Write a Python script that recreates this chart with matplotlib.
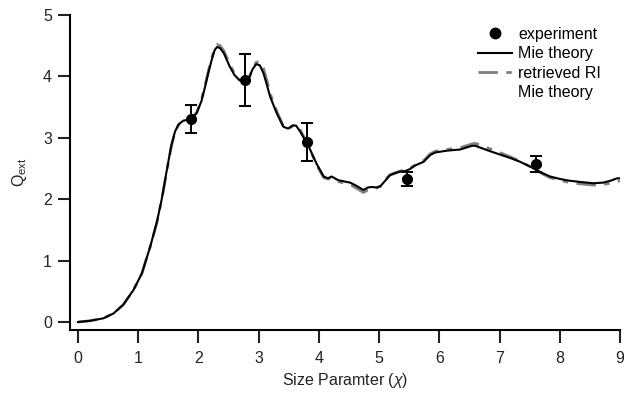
import matplotlib
matplotlib.use('Agg')
import matplotlib.pyplot as plt
from matplotlib.lines import Line2D

plt.rcParams['font.family'] = ['Liberation Sans', 'DejaVu Sans']
plt.rcParams['mathtext.fontset'] = 'custom'
plt.rcParams['mathtext.rm'] = 'Liberation Sans'
plt.rcParams['mathtext.it'] = 'Liberation Sans:italic'

# Mie theory curve
mie_x = [0.00, 0.20, 0.42, 0.59, 0.75, 0.92, 1.06, 1.20, 1.31, 1.39,
         1.47, 1.55, 1.61, 1.67, 1.75, 1.86, 1.97, 2.05, 2.11, 2.17,
         2.22, 2.27, 2.31, 2.36, 2.42, 2.52, 2.60, 2.68, 2.77, 2.84,
         2.90, 2.96, 3.02, 3.08, 3.14, 3.19, 3.30, 3.41, 3.49, 3.56,
         3.62, 3.69, 3.76, 3.83, 3.96, 4.08, 4.15, 4.21, 4.32, 4.42,
         4.52, 4.62, 4.74, 4.81, 4.88, 4.95, 5.02, 5.10, 5.18, 5.26,
         5.35, 5.44, 5.51, 5.60, 5.74, 5.85, 5.93, 6.12, 6.35, 6.54,
         6.60, 6.79, 7.00, 7.18, 7.34, 7.51, 7.70, 7.84, 8.00, 8.17,
         8.35, 8.56, 8.72, 8.84, 8.95, 9.00]
mie_q = [0.00, 0.02, 0.06, 0.14, 0.28, 0.52, 0.79, 1.23, 1.63, 2.00,
         2.45, 2.88, 3.10, 3.22, 3.28, 3.30, 3.40, 3.60, 3.83, 4.08,
         4.27, 4.43, 4.48, 4.46, 4.38, 4.16, 4.02, 3.94, 3.91, 3.98,
         4.12, 4.20, 4.18, 4.05, 3.85, 3.67, 3.40, 3.18, 3.15, 3.20,
         3.20, 3.10, 2.98, 2.86, 2.58, 2.37, 2.34, 2.37, 2.31, 2.29,
         2.27, 2.22, 2.15, 2.19, 2.20, 2.19, 2.21, 2.30, 2.39, 2.42,
         2.45, 2.46, 2.49, 2.55, 2.61, 2.72, 2.76, 2.79, 2.81, 2.87,
         2.87, 2.80, 2.73, 2.67, 2.61, 2.53, 2.43, 2.37, 2.33, 2.30,
         2.28, 2.26, 2.27, 2.30, 2.34, 2.34]

# retrieved RI Mie theory curve
ri_q = [0.00, 0.02, 0.06, 0.14, 0.28, 0.52, 0.79, 1.23, 1.62, 1.99,
        2.43, 2.86, 3.09, 3.21, 3.27, 3.30, 3.41, 3.62, 3.86, 4.11,
        4.30, 4.46, 4.52, 4.50, 4.42, 4.20, 4.04, 3.94, 3.90, 3.97,
        4.12, 4.23, 4.24, 4.13, 3.92, 3.72, 3.43, 3.19, 3.14, 3.19,
        3.22, 3.13, 3.00, 2.86, 2.56, 2.35, 2.33, 2.35, 2.29, 2.26,
        2.24, 2.18, 2.11, 2.15, 2.17, 2.18, 2.21, 2.31, 2.40, 2.43,
        2.46, 2.47, 2.50, 2.56, 2.63, 2.74, 2.78, 2.81, 2.84, 2.90,
        2.91, 2.84, 2.76, 2.69, 2.62, 2.53, 2.42, 2.35, 2.31, 2.27,
        2.25, 2.23, 2.24, 2.26, 2.29, 2.30]

# experiment
exp_x = [1.88, 2.78, 3.80, 5.46, 7.61]
exp_q = [3.31, 3.94, 2.93, 2.33, 2.57]
exp_err = [0.23, 0.42, 0.31, 0.11, 0.13]

fig = plt.figure(figsize=(6.24, 3.93), dpi=100)
ax = fig.add_axes([70/624, 1 - 330/393, 550/624, 315/393])

ax.plot(mie_x, ri_q, color='#808080', lw=2.0, dashes=(7, 3, 2, 3))
ax.plot(mie_x, mie_q, color='black', lw=1.5)
ax.errorbar(exp_x, exp_q, yerr=exp_err, fmt='o', color='black',
            markersize=7, elinewidth=1.4, capsize=4.5, capthick=1.4)

ax.set_xlim(-0.133, 9)
ax.set_ylim(-0.13, 5)
ax.set_xticks(range(0, 10))
ax.set_yticks(range(0, 6))
for s in ['top', 'right']:
    ax.spines[s].set_visible(False)
for s in ['left', 'bottom']:
    ax.spines[s].set_linewidth(1.5)
ax.tick_params(axis='x', direction='out', length=9, width=1.5, pad=6, labelsize=11.5, colors='#222222')
ax.tick_params(axis='y', direction='out', length=9, width=1.5, pad=4, labelsize=11.5, colors='#222222')
ax.set_xlabel(r'Size Paramter ($\chi$)', fontsize=11.5, color='#222222', labelpad=4)
ax.set_ylabel(r'Q$_{\mathrm{ext}}$', fontsize=11.5, color='#222222', labelpad=10)

handles = [
    Line2D([], [], marker='o', color='black', linestyle='none', markersize=7.5),
    Line2D([], [], color='black', lw=1.5),
    Line2D([], [], color='#808080', lw=2.0, dashes=(7, 3, 2, 3)),
    Line2D([], [], linestyle='none'),
]
labels = ['experiment', 'Mie theory', 'retrieved RI', 'Mie theory']
fig.legend(handles, labels, loc='upper left', bbox_to_anchor=(478/624, 1 - 27/393),
           frameon=False, fontsize=11.5, borderpad=0, borderaxespad=0,
           handlelength=2.1, handletextpad=0.4, labelspacing=0.28)

fig.savefig('out.png', dpi=100)
